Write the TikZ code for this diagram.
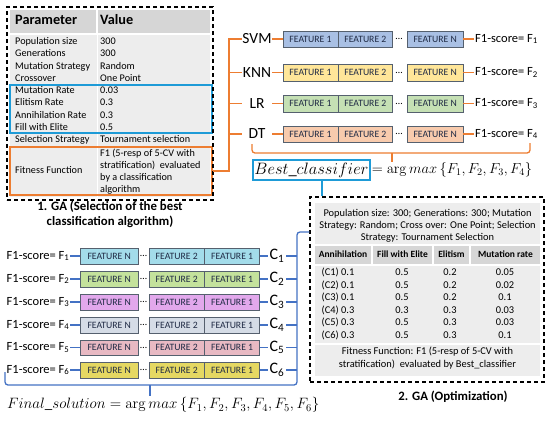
\documentclass[tikz,border=0pt]{standalone}
\usepackage{fix-cm}
\usepackage[no-math]{fontspec}
\setmainfont{Carlito}
\usetikzlibrary{positioning}
\definecolor{gaorange}{HTML}{ED7D31}
\definecolor{gablue}{HTML}{1E9BD7}
\definecolor{linkblue}{HTML}{4472C4}
\definecolor{cellgray}{HTML}{EDEDED}
\definecolor{headgray}{HTML}{D6D6D6}
\definecolor{featline}{HTML}{55606E}
\definecolor{feattext}{HTML}{1F2A44}
\definecolor{svmfill}{HTML}{A9C0E4}
\definecolor{knnfill}{HTML}{FFE699}
\definecolor{lrfill}{HTML}{C5E0B4}
\definecolor{dtfill}{HTML}{F8CBAD}
\definecolor{cfA}{HTML}{A3DCEA}
\definecolor{cfB}{HTML}{C4E29C}
\definecolor{cfC}{HTML}{E2A8EC}
\definecolor{cfD}{HTML}{D5DCE6}
\definecolor{cfE}{HTML}{E8B9C3}
\definecolor{cfF}{HTML}{E5D862}

\begin{document}
\begin{tikzpicture}[x=1pt, y=-1pt,
  cell/.style={anchor=west, inner sep=0pt, text height=7pt, text depth=2pt, font=\fontsize{10.2}{12.2}\selectfont},
  t2/.style={inner sep=0pt, text height=7pt, text depth=2pt, font=\fontsize{10.4}{12}\selectfont},
  dashbox/.style={draw, line width=1.2pt, dash pattern=on 4pt off 3pt},
  feat/.style={draw=featline, fill=#1, text=feattext, minimum width=54.5pt, minimum height=16.5pt, inner sep=0pt, font=\fontsize{9.7}{9.7}\selectfont},
  featb/.style={draw=featline, fill=#1, text=feattext, minimum width=55pt, minimum height=15.5pt, inner sep=0pt, font=\fontsize{9.7}{9.7}\selectfont},
  clf/.style={minimum width=30pt, inner sep=0pt, font=\fontsize{15.5}{15.5}\selectfont},
  score/.style={anchor=west, inner sep=1pt, font=\fontsize{12.5}{12.5}\selectfont},
  cnode/.style={inner sep=1.5pt, font=\fontsize{16}{16}\selectfont},
  dots/.style={inner sep=0pt, font=\fontsize{10}{10}\selectfont},
  obr/.style={draw=gaorange, line width=1.3pt},
  cbr/.style={draw=linkblue, line width=1.3pt},
  capt/.style={align=center, font=\bfseries\fontsize{12.8}{15}\selectfont}]
\fill[white] (0,0) rectangle (550,424);
\useasboundingbox (0,0) rectangle (550,424);

% GA 1 table
\fill[headgray] (10,10) rectangle (96,33);
\fill[headgray] (98,10) rectangle (210,33);
\fill[cellgray] (10,35) rectangle (210,197);
\draw[white, line width=1pt] (97,35) -- (97,197);
\node[cell, font=\bfseries\fontsize{14.3}{14.3}\selectfont] (hpar) at (15,22) {Parameter};
\node[cell, font=\bfseries\fontsize{14.3}{14.3}\selectfont] (hval) at (100,22) {Value};
\foreach \p/\v [count=\i] in {Population size/300, Generations/300, Mutation Strategy/Random, Crossover/One Point, Mutation Rate/0.03, Elitism Rate/0.3, Annihilation Rate/0.3, Fill with Elite/0.5, Selection Strategy/Tournament selection}{
  \node[cell] (p\i) at (15,{29.75+12.25*\i}) {\p};
  \node[cell] (v\i) at (100,{29.75+12.25*\i}) {\v};
}
\node[cell] (pfit) at (15,171) {Fitness Function};
\node[anchor=west, inner sep=0pt, align=left, font=\fontsize{10.2}{12.2}\selectfont] (vfit) at (100,171.5) {F1 (5-resp of 5-CV with\\stratification)~ evaluated\\by a classification\\algorithm};
\node[draw=gablue, line width=1.2pt, minimum width=202pt, minimum height=48pt] (ratebox) at (111,109) {};
\node[draw=gaorange, line width=1.2pt, minimum width=202pt, minimum height=48pt] (fitbox) at (111,171) {};
\node[dashbox, minimum width=206pt, minimum height=193pt] (ga1) at (110,103.5) {};
\node[capt] (cap1) at (110,214.5) {1. GA (Selection of the best\\classification algorithm)};

% classifiers
\coordinate (spine) at (229,39);
\foreach \n/\lab/\col/\y [count=\i] in {svm/SVM/svmfill/39, knn/KNN/knnfill/72.5, lr/LR/lrfill/103.5, dt/DT/dtfill/134}{
  \node[clf] (\n) at (257,\y) {\lab};
  \node[feat=\col, anchor=west] (\n-1) at (283,\y) {FEATURE 1};
  \node[feat=\col, right=0pt of \n-1] (\n-2) {FEATURE 2};
  \node[dots] (\n-d) at (399,\y) {\dots};
  \node[feat=\col, anchor=west, minimum width=56pt] (\n-N) at (407,\y) {FEATURE N};
  \node[score] (\n-s) at (474,\y) {F1-score= F\textsubscript{\i}};
  \draw[obr] (\n) -- (\n-1);
  \draw[obr] (\n-N) -- (\n-s);
}
\draw[obr] (fitbox.east) -| (spine) -- (svm);
\foreach \n in {knn,lr,dt} \draw[obr] (spine |- \n) -- (\n);

% best classifier
\coordinate (bl) at (252,144);
\coordinate (br) at (530,143);
\coordinate (bm) at (392,153);
\draw[obr, rounded corners=3pt] (bl) -- (252,153) -- (530,153) -- (br);
\node[draw=gablue, line width=1.2pt, inner sep=1pt, minimum width=117pt, minimum height=20pt, font=\fontsize{16.5}{16.5}\selectfont] (best) at (311.5,170) {$Best\_classifier$};
\node[anchor=west, inner sep=1pt, font=\fontsize{14.5}{14.5}\selectfont] (beq) at (best.east) {$=\arg max\,\{F_1,F_2,F_3,F_4\}$};
\draw[obr] (bm) -- (bm |- beq.north);

% GA 2 table
\fill[cellgray] (315,203) rectangle (540,244);
\fill[headgray] (315,246) rectangle (371,264);
\fill[headgray] (373,246) rectangle (432,264);
\fill[headgray] (434,246) rectangle (469,264);
\fill[headgray] (471,246) rectangle (540,264);
\fill[cellgray] (315,266) rectangle (540,343);
\fill[cellgray] (315,345) rectangle (540,376);
\node[t2, text height=, text depth=, align=center] (gpar) at (427.5,226) {Population size: 300; Generations: 300; Mutation\\Strategy: Random; Cross over: One Point; Selection\\Strategy: Tournament Selection};
\foreach \x/\h [count=\i] in {343/Annihilation, 402.5/Fill with Elite, 451.5/Elitism, 505.5/Mutation rate}
  \node[t2, font=\bfseries\fontsize{9.5}{9.5}\selectfont] (h\i) at (\x,255) {\h};
\foreach \a/\b/\c/\d [count=\i] in {0.1/0.5/0.2/0.05, 0.1/0.5/0.2/0.02, 0.1/0.5/0.2/0.1, 0.3/0.3/0.3/0.03, 0.3/0.5/0.3/0.03, 0.3/0.5/0.3/0.1}{
  \node[t2] (a\i) at (338,{260.5+12.5*\i}) {(C\i) \a};
  \node[t2] (b\i) at (402,{260.5+12.5*\i}) {\b};
  \node[t2] (e\i) at (450,{260.5+12.5*\i}) {\c};
  \node[t2] (m\i) at (505,{260.5+12.5*\i}) {\d};
}
\node[t2, text height=, text depth=, align=center, font=\fontsize{10.4}{13}\selectfont] (gfit) at (427.5,358.5) {Fitness Function: F1 (5-resp of 5-CV with\\stratification)~ evaluated by Best\_classifier};
\node[dashbox, minimum width=234pt, minimum height=185pt] (ga2) at (427,289.5) {};
\node[capt] (cap2) at (453,397) {2. GA (Optimization)};
\draw[gablue, line width=1.3pt] ([xshift=10.5pt]best.south) -- ([xshift=10.5pt]best.south |- ga2.north);

% optimized runs
\coordinate (cspine) at (297,232);
\foreach \col/\y [count=\i] in {cfA/256, cfB/279, cfC/302, cfD/325, cfE/347.5, cfF/370}{
  \node[score, inner sep=0.5pt] (s\i) at (6,\y) {F1-score= F\textsubscript{\i}};
  \node[featb=\col, anchor=west, minimum width=58pt] (r\i-N) at (80,\y) {FEATURE N};
  \node[dots] (r\i-d) at (143.5,\y) {\dots};
  \node[featb=\col, anchor=west] (r\i-2) at (149,\y) {FEATURE 2};
  \node[featb=\col, right=0pt of r\i-2] (r\i-1) {FEATURE 1};
  \node[cnode] (c\i) at (277,\y) {C\textsubscript{\i}};
  \draw[cbr] (s\i) -- (r\i-N);
  \draw[cbr] (r\i-1) -- (c\i);
  \draw[cbr] (c\i) -- (c\i -| cspine);
}
\draw[cbr, rounded corners=3pt] (ga2.west |- cspine) -- (cspine) -- (297,385) -- (5,385) -- (5,372);
\coordinate (fmid) at (150,385);
\node[anchor=west, inner sep=1pt, font=\fontsize{15}{15}\selectfont] (final) at (6,405) {$Final\_solution=\arg max\,\{F_1,F_2,F_3,F_4,F_5,F_6\}$};
\draw[cbr] (fmid) -- (fmid |- final.north);
\end{tikzpicture}
\end{document}
